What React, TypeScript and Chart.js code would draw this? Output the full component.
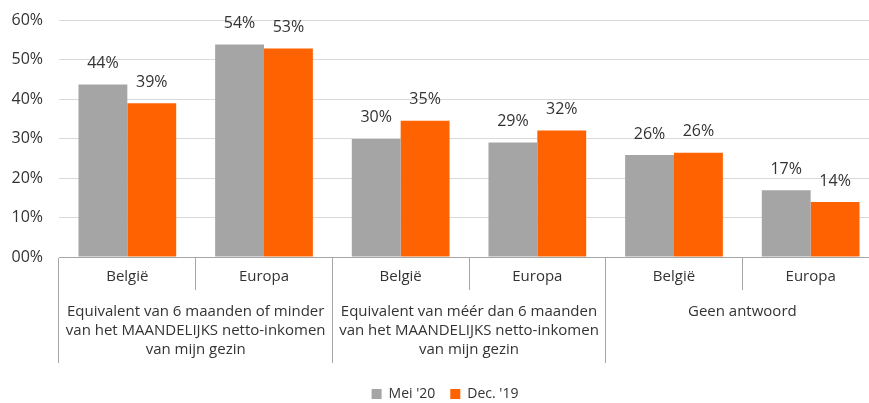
import React, { useEffect, useRef } from "react";
import { Chart, registerables } from "chart.js";

Chart.register(...registerables);

const subCategories = ["België", "Europa", "België", "Europa", "België", "Europa"];
const groupLabels = [
  ["Equivalent van 6 maanden of minder", "van het MAANDELIJKS netto-inkomen", "van mijn gezin"],
  ["Equivalent van méér dan 6 maanden", "van het MAANDELIJKS netto-inkomen", "van mijn gezin"],
  ["Geen antwoord"],
];
const seriesNames = ["Mei '20", "Dec. '19"];
const mei20 = [43.7, 53.8, 29.9, 29.0, 25.8, 16.9];
const dec19 = [38.9, 52.8, 34.5, 32.0, 26.4, 13.9];
const yTickValues = [0, 10, 20, 30, 40, 50, 60];

const FONT_FAMILY = '"Open Sans", sans-serif';
const TEXT_COLOR = "#333333";
const GRAY = "#a5a5a5";
const ORANGE = "#ff6200";
const AXIS_COLOR = "#a6a6a6";

const dataLabelPlugin = {
  id: "barValueLabels",
  afterDatasetsDraw(chart: any) {
    const ctx = chart.ctx;
    ctx.save();
    ctx.font = `16px ${FONT_FAMILY}`;
    ctx.fillStyle = TEXT_COLOR;
    ctx.textAlign = "center";
    ctx.textBaseline = "middle";
    chart.data.datasets.forEach((ds: any, di: number) => {
      const meta = chart.getDatasetMeta(di);
      meta.data.forEach((bar: any, i: number) => {
        ctx.fillText(Math.round(ds.data[i]) + "%", bar.x, bar.y - 21);
      });
    });
    ctx.restore();
  },
};

export default function App() {
  const canvasRef = useRef<HTMLCanvasElement | null>(null);

  useEffect(() => {
    if (!canvasRef.current) return;
    const catFont = { family: FONT_FAMILY, size: 15 };
    const chart = new Chart(canvasRef.current, {
      type: "bar",
      data: {
        labels: subCategories,
        datasets: [
          {
            label: seriesNames[0],
            data: mei20,
            backgroundColor: GRAY,
            categoryPercentage: 0.715,
            barPercentage: 1,
          },
          {
            label: seriesNames[1],
            data: dec19,
            backgroundColor: ORANGE,
            categoryPercentage: 0.715,
            barPercentage: 1,
          },
        ],
      },
      options: {
        responsive: false,
        animation: false,
        layout: { padding: { top: 20, left: 11, right: 31, bottom: -8 } },
        plugins: {
          tooltip: { enabled: false },
          legend: {
            position: "bottom",
            labels: {
              boxWidth: 10,
              boxHeight: 10,
              padding: 15,
              color: TEXT_COLOR,
              font: { family: FONT_FAMILY, size: 14 },
            },
          },
        },
        scales: {
          y: {
            min: 0,
            max: 60,
            afterBuildTicks: (scale: any) => {
              scale.ticks = yTickValues.map((v) => ({ value: v }));
            },
            ticks: {
              padding: 16,
              color: TEXT_COLOR,
              font: { family: FONT_FAMILY, size: 16 },
              callback: (v: any) => (Number(v) === 0 ? "00%" : v + "%"),
            },
            grid: { color: "#d9d9d9", drawTicks: false },
            border: { display: false },
            afterFit: (scale: any) => {
              scale.width = 48;
              scale.paddingTop = 0;
              scale.paddingBottom = 0;
            },
          },
          x: {
            type: "category",
            position: "bottom",
            grid: {
              offset: true,
              drawOnChartArea: false,
              tickLength: 33,
              color: AXIS_COLOR,
            },
            border: { color: AXIS_COLOR },
            ticks: { padding: -22, color: TEXT_COLOR, font: catFont, maxRotation: 0, minRotation: 0, autoSkip: false },
            afterFit: (scale: any) => {
              scale.height = 33;
              scale.paddingLeft = 0;
              scale.paddingRight = 0;
            },
          },
          x2: {
            type: "category",
            position: "bottom",
            labels: groupLabels as any,
            grid: {
              offset: true,
              drawOnChartArea: false,
              tickLength: 73,
              color: AXIS_COLOR,
            },
            border: { display: false },
            ticks: {
              padding: -61,
              color: TEXT_COLOR,
              font: { family: FONT_FAMILY, size: 15, lineHeight: 1.27 },
              maxRotation: 0,
              minRotation: 0,
              autoSkip: false,
            },
            afterFit: (scale: any) => {
              scale.height = 82;
              scale.paddingLeft = 0;
              scale.paddingRight = 0;
            },
          },
        },
      } as any,
      plugins: [dataLabelPlugin],
    });
    return () => chart.destroy();
  }, []);

  return (
    <div
      style={{
        position: "fixed",
        left: 0,
        top: 0,
        width: 869,
        height: 403,
        overflow: "hidden",
        background: "#ffffff",
      }}
    >
      <canvas ref={canvasRef} width={910} height={403} style={{ width: 910, height: 403, display: "block" }} />
    </div>
  );
}
